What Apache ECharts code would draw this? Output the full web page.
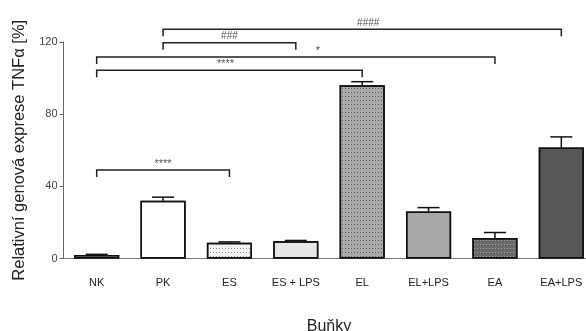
<!DOCTYPE html>
<html>
<head>
<meta charset="utf-8">
<script src="https://cdn.jsdelivr.net/npm/echarts@6/dist/echarts.min.js"></script>
<style>
  html, body { margin: 0; padding: 0; background: #fff; }
  #chart { width: 586px; height: 331px; }
</style>
</head>
<body>
<div id="chart"></div>
<script>
// Cell groups on the x axis
const categories = ['NK', 'PK', 'ES', 'ES + LPS', 'EL', 'EL+LPS', 'EA', 'EA+LPS'];
// Mean relative TNFα expression [%]
const means = [2, 32, 8.7, 9.6, 96, 26, 11.3, 61.5];
// Upper end of the error bar (mean + SEM)
const upper = [2.3, 34, 9.2, 10, 98, 28.2, 14.4, 67.4];
// Y axis ticks
const yTicks = [0, 40, 80, 120];
// Significance brackets: from category, to category, height, label
const bracketFrom = [0, 0, 0, 1, 1];
const bracketTo = [2, 4, 6, 3, 7];
const bracketY = [49, 104.3, 111.7, 119.6, 127];
const bracketLabels = ['****', '****', '*', '###', '####'];

// Fill and dot pattern for each bar
const fills = ['#ffffff', '#ffffff', '#f2f2f2', '#e6e6e6', '#a9a9a9', '#a8a8a8', '#686868', '#575757'];
const dots = [null, null, '#8a8a8a', null, '#5a5a5a', null, '#a8a8a8', null];
// Horizontal nudge (px) of each bracket label so it clears neighbouring brackets
const labelNudge = [0, -4, 22, 0, 6];

const chart = echarts.init(document.getElementById('chart'));

const barData = means.map((v, i) => ({
  value: v,
  itemStyle: {
    color: fills[i],
    borderColor: '#111',
    borderWidth: 1.5,
    decal: dots[i]
      ? { symbol: 'rect', symbolSize: 1, dashArrayX: [1, 2], dashArrayY: [1, 3], color: dots[i] }
      : { symbol: 'none' }
  }
}));

const errData = means.map((v, i) => [i, v, upper[i]]);
const bracketData = bracketFrom.map((f, i) => [f, bracketTo[i], bracketY[i], bracketLabels[i]]);

const option = {
  animation: false,
  aria: { enabled: true, decal: { show: true } },
  // the plot runs slightly past the right edge of the canvas
  grid: { left: 63.5, width: 531, top: 42, bottom: 72.5, outerBoundsMode: 'none', containLabel: false },
  xAxis: {
    type: 'category',
    data: categories,
    name: 'Buňky',
    nameLocation: 'middle',
    nameGap: 60,
    nameTextStyle: { fontFamily: 'Liberation Sans', fontSize: 16, color: '#222' },
    axisLine: { lineStyle: { color: '#777', width: 1 } },
    axisTick: { alignWithLabel: true, length: 4, lineStyle: { color: '#999' } },
    axisLabel: { fontFamily: 'Liberation Sans', fontSize: 11, color: '#222', margin: 19 }
  },
  yAxis: {
    type: 'value',
    min: yTicks[0],
    max: yTicks[yTicks.length - 1],
    interval: yTicks[1] - yTicks[0],
    name: 'Relativní genová exprese TNFα [%]',
    nameLocation: 'middle',
    nameGap: 32,
    nameTextStyle: { fontFamily: 'Liberation Sans', fontSize: 16.5, color: '#222' },
    axisLine: { show: true, lineStyle: { color: '#666', width: 1 } },
    axisTick: { show: true, length: 4, lineStyle: { color: '#666' } },
    axisLabel: { fontFamily: 'Liberation Sans', fontSize: 11, color: '#444', margin: 6 },
    splitLine: { show: false }
  },
  series: [
    {
      type: 'bar',
      data: barData,
      barWidth: '68%'
    },
    {
      type: 'custom',
      data: errData,
      z: 3,
      renderItem: function (params, api) {
        const top = api.coord([api.value(0), api.value(2)]);
        const base = api.coord([api.value(0), api.value(1)]);
        const half = 11;
        return {
          type: 'group',
          children: [
            { type: 'line', shape: { x1: base[0], y1: base[1], x2: top[0], y2: top[1] },
              style: { stroke: '#111', lineWidth: 1.5 } },
            { type: 'line', shape: { x1: top[0] - half, y1: top[1], x2: top[0] + half, y2: top[1] },
              style: { stroke: '#111', lineWidth: 1.5 } }
          ]
        };
      }
    },
    {
      type: 'custom',
      data: bracketData,
      clip: false,
      z: 4,
      renderItem: function (params, api) {
        const a = api.coord([api.value(0), api.value(2)]);
        const b = api.coord([api.value(1), api.value(2)]);
        const drop = 7;
        const label = bracketData[params.dataIndex][3];
        return {
          type: 'group',
          children: [
            { type: 'polyline',
              shape: { points: [[a[0], a[1] + drop], [a[0], a[1]], [b[0], b[1]], [b[0], b[1] + drop]] },
              style: { stroke: '#222', lineWidth: 1.5, fill: null } },
            { type: 'text',
              style: { text: label, x: (a[0] + b[0]) / 2 + labelNudge[params.dataIndex], y: a[1] - 1,
                       align: 'center', verticalAlign: 'bottom',
                       fontFamily: 'Liberation Sans', fontSize: label.charAt(0) === '*' ? 11 : 10, fill: '#555' } }
          ]
        };
      }
    }
  ]
};

chart.setOption(option);
</script>
</body>
</html>
